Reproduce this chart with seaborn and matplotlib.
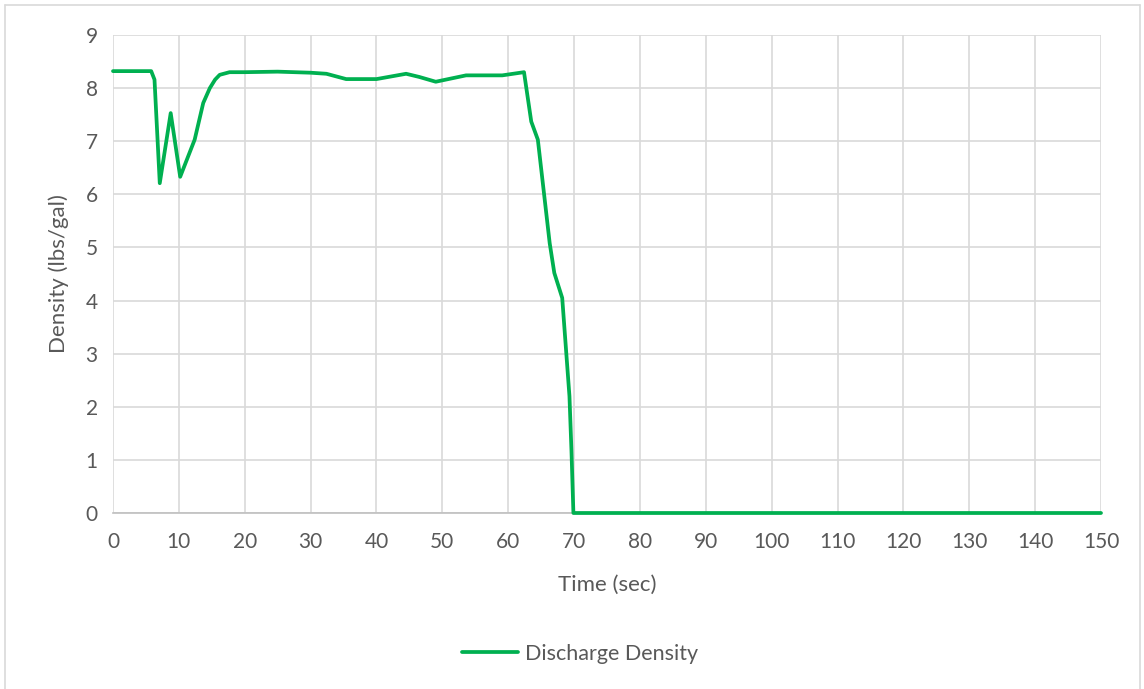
import matplotlib
matplotlib.use("Agg")
import matplotlib.pyplot as plt
import seaborn as sns
import pandas as pd
from matplotlib.lines import Line2D

time_sec = [0, 5.8, 6.3, 7.1, 8.76, 10.2, 11.3, 12.4, 13.7, 14.7, 15.5, 16.2, 17.7, 20, 25,
            30, 32.4, 35.4, 40, 44.5, 46.5, 49, 53.6, 59.1, 62.4, 63.5, 64.5, 66.3, 67.0,
            68.2, 69.3, 69.6, 69.9, 80, 100, 120, 150]
density = [8.32, 8.32, 8.16, 6.21, 7.53, 6.33, 6.68, 7.03, 7.72, 8.0, 8.16, 8.25, 8.30,
           8.30, 8.31, 8.29, 8.27, 8.17, 8.17, 8.27, 8.21, 8.12, 8.24, 8.24, 8.30, 7.37,
           7.03, 5.08, 4.52, 4.05, 2.2, 1.19, 0.0, 0.0, 0.0, 0.0, 0.0]
x_ticks = list(range(0, 151, 10))
y_ticks = list(range(0, 10))
series_name = "Discharge Density"

df = pd.DataFrame({"Time (sec)": time_sec, "Density (lbs/gal)": density})

sns.set_style("white")
plt.rcParams["font.family"] = ["Lato", "DejaVu Sans"]

fig = plt.figure(figsize=(11.44, 6.89), dpi=100)
ax = fig.add_axes([113 / 1144, 1 - 513 / 689, (1101 - 113) / 1144, (513 - 35) / 689])

green = "#00b050"
sns.lineplot(data=df, x="Time (sec)", y="Density (lbs/gal)", ax=ax, color=green,
             linewidth=2.7, sort=False)
for ln in ax.lines:
    ln.set_clip_on(False)
    ln.set_solid_joinstyle("round")
    ln.set_zorder(5)

ax.set_xlim(0, 150)
ax.set_ylim(0, 9)
ax.set_xticks(x_ticks)
ax.set_yticks(y_ticks)
ax.grid(True, color="#d9d9d9", linewidth=1.2)
ax.set_axisbelow(True)
for s in ["top", "right", "left"]:
    ax.spines[s].set_visible(False)
ax.spines["bottom"].set_color("#bfbfbf")
ax.spines["bottom"].set_linewidth(1.2)
ax.tick_params(axis="both", length=0, labelsize=15, labelcolor="#595959")
ax.tick_params(axis="x", pad=14)
ax.tick_params(axis="y", pad=11)
ax.set_xlabel("Time (sec)", fontsize=16, color="#595959", labelpad=16)
ax.set_ylabel("Density (lbs/gal)", fontsize=16, color="#595959", labelpad=12)

handle = Line2D([], [], color=green, linewidth=2.7)
fig.legend([handle], [series_name], loc="center", bbox_to_anchor=(580 / 1144, 1 - 654 / 689),
           frameon=False, fontsize=15.5, labelcolor="#595959", handlelength=2.6, handletextpad=0.3)

# outer chart border
border_color = "#d9d9d9"
fig.add_artist(Line2D([5 / 1144, 5 / 1144], [0, 1 - 5 / 689], transform=fig.transFigure,
                      color=border_color, linewidth=1.2))
fig.add_artist(Line2D([5 / 1144, 1140 / 1144], [1 - 5 / 689, 1 - 5 / 689], transform=fig.transFigure,
                      color=border_color, linewidth=1.2))
fig.add_artist(Line2D([1140 / 1144, 1140 / 1144], [0, 1 - 5 / 689], transform=fig.transFigure,
                      color=border_color, linewidth=1.2))

fig.savefig("out.png", dpi=100, facecolor="white")
